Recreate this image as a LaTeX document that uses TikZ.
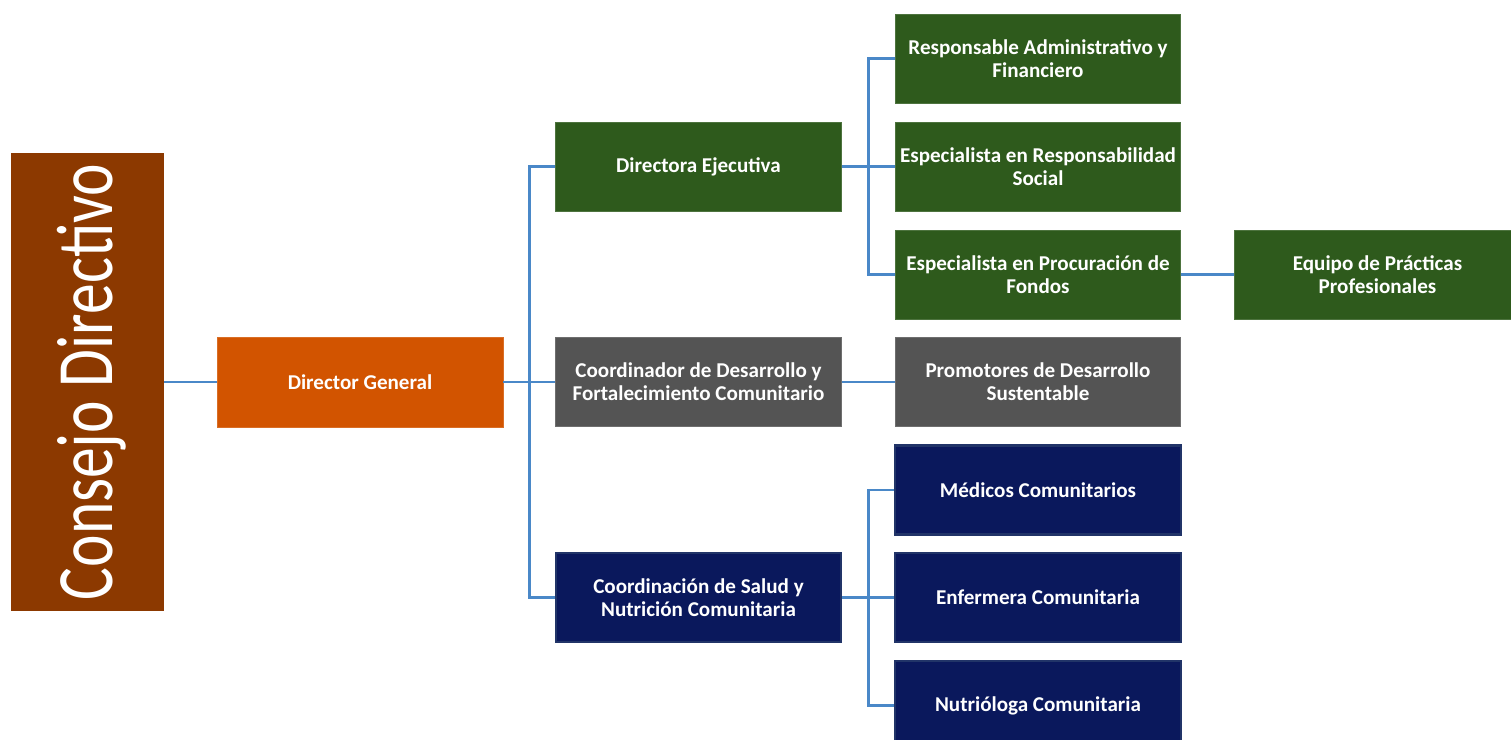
\documentclass[tikz,border=0pt]{standalone}
\usepackage{fontspec}
\setmainfont{Carlito}
\usepackage{graphicx}
\usepackage{xcolor}
\usepackage{tikz}
\usetikzlibrary{calc,positioning}
\definecolor{cbrown}{HTML}{8C3900}
\definecolor{corange}{HTML}{D25400}
\definecolor{cgreen}{HTML}{2E5A1C}
\definecolor{cgray}{HTML}{545454}
\definecolor{cnavy}{HTML}{0A185C}
\definecolor{cnavyd}{HTML}{213468}
\definecolor{clink}{HTML}{4A88C8}
\tikzset{
  % flat filled box, white bold text
  unit/.style    = {rectangle, draw=#1!85!white, fill=#1, line width=0.3pt,
                    text=white, align=center, inner sep=2pt,
                    minimum width=57.1mm, minimum height=17.8mm,
                    font=\bfseries\fontsize{12}{13.2}\selectfont},
  unit/.default  = cgreen,
  navyunit/.style = {unit=cnavy, draw=cnavyd, line width=1.2pt},
  link/.style    = {clink, line width=1.7pt},
}
\begin{document}
\begin{tikzpicture}[x=0.2mm,y=-0.2mm]
\useasboundingbox (0,0) rectangle (1511,740);
\clip (0,0) rectangle (1511,740);
% board
\node[rectangle, fill=cbrown, minimum width=30.6mm, minimum height=91.6mm,
      inner sep=0pt] (board) at (87.5,382) {};
\node[text=white, rotate=90, font=\fontsize{35}{35}\selectfont] at ([xshift=0.8mm]board.center)
      {\scalebox{1}[1.3]{Consejo Directivo}};
% first two levels
\node[unit=corange, minimum width=57.2mm, minimum height=18mm] (dirg) at (360,382) {Director General};
\node[unit]             (dire)  at (698.5,166.5) {Directora Ejecutiva};
\node[unit=cgray]       (coord) at (698.5,382)   {Coordinador de Desarrollo y\\Fortalecimiento Comunitario};
\node[navyunit]         (salud) at (698.5,597.5) {Coordinaci\'on de Salud y\\Nutrici\'on Comunitaria};
% right column
\node[unit]             (resp)  at (1038,58.5)  {Responsable Administrativo y\\Financiero};
\node[unit]             (espec) at (1038,166.5) {Especialista en Responsabilidad\\Social};
\node[unit]             (procu) at (1038,274.5) {Especialista en Procuraci\'on de\\Fondos};
\node[unit=cgray]       (prom)  at (1038,382)   {Promotores de Desarrollo\\Sustentable};
\node[navyunit]         (medic) at (1038,490)   {M\'edicos Comunitarios};
\node[navyunit]         (enfer) at (1038,597.5) {Enfermera Comunitaria};
\node[navyunit]         (nutri) at (1038,705.5) {Nutri\'ologa Comunitaria};
\node[unit]             (equip) at (1377.5,274.5) {Equipo de Pr\'acticas\\Profesionales};

% buses
\coordinate (b1) at ($(dirg.east)!0.5!(coord.west)$);
\coordinate (b2) at ($(dire.east)!0.5!(espec.west)$);
\coordinate (b3) at ($(salud.east)!0.5!(enfer.west)$);

% connectors
\draw[link] (board.east) -- (dirg.west);
\draw[link] (dirg.east) -- (coord.west);
\draw[link] (dire.west) -| (b1) |- (salud.west);
\draw[link] (dire.east) -- (espec.west);
\draw[link] (resp.west) -| (b2) |- (procu.west);
\draw[link] (coord.east) -- (prom.west);
\draw[link] (procu.east) -- (equip.west);
\draw[link] (salud.east) -- (enfer.west);
\draw[link] (medic.west) -| (b3) |- (nutri.west);
\end{tikzpicture}
\end{document}
